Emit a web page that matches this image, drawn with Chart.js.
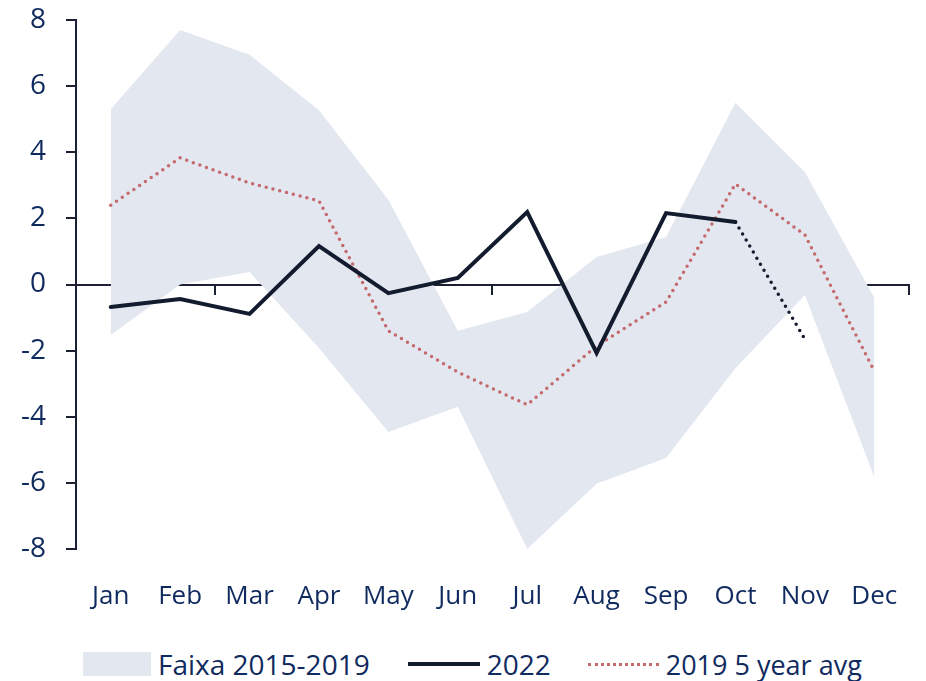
<!DOCTYPE html>
<html>
<head>
<meta charset="utf-8">
<script src="https://cdn.jsdelivr.net/npm/chart.js@4"></script>
<style>
  body { margin: 0; background: #fff; font-family: 'Open Sans', sans-serif; }
  #wrap { position: relative; width: 926px; height: 629px; }
  #legend { display: flex; align-items: center; height: 70px; color: #0f2a5e; font-size: 28px; }
  #legend .band { width: 68px; height: 24px; background: #e3e7f0; margin-left: 83px; }
  #legend .solid { width: 72px; border-top: 4px solid #131b2e; margin-left: 38px; }
  #legend .dots { width: 71px; border-top: 3px dotted #c56a6c; margin-left: 37px; }
  #legend span { margin-left: 7px; }
  #legend span.last { font-size: 27px; }
</style>
</head>
<body>
<div id="wrap"><canvas id="chart"></canvas></div>
<div id="legend">
  <div class="band"></div><span>Faixa 2015-2019</span>
  <div class="solid"></div><span>2022</span>
  <div class="dots"></div><span class="last">2019 5 year avg</span>
</div>
<script>
const months = ['Jan', 'Feb', 'Mar', 'Apr', 'May', 'Jun', 'Jul', 'Aug', 'Sep', 'Oct', 'Nov', 'Dec'];
const bandHigh = [5.3, 7.7, 6.95, 5.27, 2.56, -1.4, -0.83, 0.83, 1.44, 5.5, 3.4, -0.4];
const bandLow = [-1.53, 0.0, 0.38, -1.92, -4.46, -3.7, -8.0, -6.03, -5.25, -2.53, -0.32, -5.82];
const y2022 = [-0.68, -0.44, -0.89, 1.16, -0.26, 0.2, 2.19, -2.07, 2.16, 1.89, -1.65, null];
const avg5y = [2.4, 3.83, 3.07, 2.53, -1.4, -2.65, -3.64, -1.86, -0.53, 3.04, 1.5, -2.62];

const AXIS = '#1b2133';
const TEXT = '#0f2a5e';

// last 2022 point (Nov) is a projection -> dotted segment
const dottedLast = ctx => ctx.p1DataIndex === 10 ? [0, 7] : undefined;

// keep the chart area where we put it, ignore label overhang padding
function noPad(s) {
    s.paddingTop = 0; s.paddingBottom = 0; s.paddingLeft = 0; s.paddingRight = 0;
}

new Chart(document.getElementById('chart'), {
    type: 'line',
    data: {
        labels: months,
        datasets: [
            { label: 'low', data: bandLow, borderWidth: 0, pointRadius: 0, fill: false, order: 5 },
            { label: 'Faixa 2015-2019', data: bandHigh, borderWidth: 0, pointRadius: 0,
              fill: '-1', backgroundColor: '#e3e7f0', order: 4 },
            { label: '2019 5 year avg', data: avg5y, borderColor: '#c56a6c', borderWidth: 3.5,
              borderDash: [0, 7], borderCapStyle: 'round', pointRadius: 0, fill: false, order: 2 },
            { label: '2022', data: y2022, borderColor: '#131b2e', borderWidth: 4, pointRadius: 0,
              fill: false, order: 1, borderCapStyle: 'round',
              segment: { borderDash: dottedLast, borderWidth: ctx => ctx.p1DataIndex === 10 ? 3.5 : 4 } }
        ]
    },
    options: {
        responsive: true,
        maintainAspectRatio: false,
        animation: false,
        layout: { padding: { top: 20, right: 17, left: 0, bottom: 0 } },
        plugins: { legend: { display: false }, tooltip: { enabled: false } },
        scales: {
            x: {
                type: 'category',
                position: 'bottom',
                offset: true,
                grid: { display: false },
                border: { display: false },
                ticks: { color: TEXT, font: { family: 'Open Sans', size: 26 }, padding: 24, maxRotation: 0 },
                afterFit: s => { s.height = 80; noPad(s); }
            },
            x0: {
                type: 'category',
                labels: months,
                position: { y: 0 },
                offset: true,
                ticks: { display: false },
                grid: { offset: true, drawOnChartArea: false, tickLength: 9, color: AXIS, lineWidth: 2 },
                border: { color: AXIS, width: 2 },
                afterFit: s => { s.height = 0; noPad(s); }
            },
            y: {
                min: -8,
                max: 8,
                ticks: { stepSize: 2, color: TEXT, font: { family: 'Open Sans', size: 28 }, padding: 20 },
                grid: { drawOnChartArea: false, tickLength: 10, color: AXIS, lineWidth: 2 },
                border: { color: AXIS, width: 2 },
                afterFit: s => { s.width = 76; noPad(s); }
            }
        }
    }
});
</script>
</body>
</html>
